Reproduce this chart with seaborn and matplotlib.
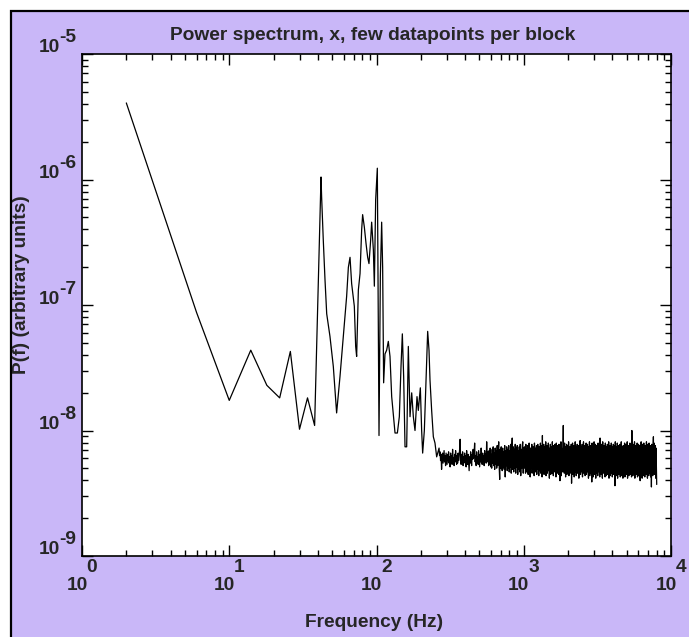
import numpy as np
import pandas as pd
import matplotlib
matplotlib.use("Agg")
import matplotlib.pyplot as plt
import seaborn as sns
from matplotlib.patches import Rectangle
from matplotlib.ticker import LogLocator, NullFormatter

# ---------------- data ----------------
# low-frequency part: frequency (Hz) and log10 of power
low_freq = [2, 6, 10, 14, 18, 22, 26, 30, 34, 38]
low_logp = [-5.39, -7.06, -7.76, -7.36, -7.64, -7.74, -7.37, -7.99, -7.74, -7.96]

# peak region 42 .. 263 Hz
peak_freq = [42.0, 42.4, 43.5, 44.7, 45.9, 48.3, 50.9, 53.6, 56.5, 59.5,
             62.7, 64.4, 66.1, 67.8, 70.7, 72.2, 73.3, 75.3, 77.3, 79.3,
             80.5, 82.7, 84.9, 87.1, 88.9, 91.3, 92.7, 95.2, 96.7, 98.7,
             101.3, 104.0, 106.2, 108.4, 110.1, 111.8, 114.2, 117.2, 120.3, 123.5,
             126.8, 133.6, 138.6, 142.9, 146.7, 149.8, 152.9, 156.2, 160.3, 164.5,
             168.9, 173.4, 177.9, 182.6, 188.4, 192.3, 198.5, 202.6, 205.8, 211.3,
             216.8, 222.6, 227.3, 230.9, 236.9, 243.2, 249.6, 256.2, 263.0]
peak_logp = [-5.98, -6.14, -6.48, -6.80, -7.07, -7.25, -7.49, -7.86, -7.57, -7.25,
             -6.93, -6.70, -6.62, -6.83, -7.01, -7.33, -7.41, -6.88, -6.75, -6.40,
             -6.28, -6.38, -6.51, -6.62, -6.67, -6.48, -6.34, -6.56, -6.85, -6.16,
             -5.91, -8.04, -6.77, -6.34, -6.70, -7.62, -7.39, -7.36, -7.29, -7.41,
             -7.73, -8.02, -8.02, -7.89, -7.49, -7.23, -7.57, -8.13, -8.13, -7.33,
             -7.89, -7.70, -7.89, -8.00, -7.73, -7.84, -7.66, -8.00, -8.18, -8.00,
             -7.62, -7.21, -7.36, -7.60, -7.84, -8.05, -8.10, -8.21, -8.16]

# noise floor, part A: 266 .. 1000 Hz (log10 power, log-spaced in frequency)
floorA_f_range = [266, 1000]
floorA_logp = [
    -8.14, -8.20, -8.17, -8.24, -8.19, -8.31, -8.22, -8.18, -8.26, -8.21,
    -8.16, -8.25, -8.20, -8.28, -8.18, -8.23, -8.27, -8.19, -8.24, -8.17,
    -8.26, -8.21, -8.29, -8.18, -8.23, -8.20, -8.27, -8.15, -8.24, -8.22,
    -8.28, -8.19, -8.25, -8.16, -8.23, -8.27, -8.20, -8.26, -8.18, -8.24,
    -8.21, -8.15, -8.07, -8.22, -8.27, -8.19, -8.25, -8.17, -8.28, -8.21,
    -8.24, -8.18, -8.26, -8.20, -8.29, -8.16, -8.23, -8.27, -8.19, -8.25,
    -8.32, -8.21, -8.26, -8.17, -8.24, -8.28, -8.19, -8.23, -8.15, -8.22,
    -8.18, -8.10, -8.25, -8.20, -8.28, -8.17, -8.24, -8.21, -8.27, -8.16,
    -8.23, -8.29, -8.19, -8.25, -8.14, -8.22, -8.27, -8.18, -8.24, -8.20,
    -8.28, -8.16, -8.23, -8.19, -8.26, -8.09, -8.21, -8.25, -8.17, -8.28,
    -8.16, -8.27, -8.14, -8.29, -8.19, -8.30, -8.15, -8.26, -8.13, -8.28,
    -8.18, -8.31, -8.14, -8.27, -8.16, -8.30, -8.12, -8.28, -8.17, -8.09,
    -8.29, -8.39, -8.15, -8.30, -8.13, -8.27, -8.32, -8.14, -8.29, -8.17,
    -8.31, -8.12, -8.37, -8.16, -8.28, -8.13, -8.32, -8.15, -8.30, -8.12,
    -8.33, -8.16, -8.29, -8.11, -8.34, -8.14, -8.06, -8.31, -8.13, -8.33,
    -8.15, -8.30, -8.11, -8.34, -8.14, -8.29, -8.12, -8.35, -8.16, -8.31,
    -8.13, -8.33, -8.11, -8.36, -8.15, -8.30, -8.12, -8.09, -8.34, -8.14,
]

# noise floor, part B: 1012 .. 7998 Hz
floorB_f_range = [1012, 7998]
floorB_logp = [
    -8.13, -8.30, -8.17, -8.34, -8.11, -8.28, -8.15, -8.33, -8.19, -8.29,
    -8.12, -8.35, -8.16, -8.27, -8.10, -8.32, -8.18, -8.37, -8.14, -8.30,
    -8.20, -8.29, -8.11, -8.34, -8.15, -8.31, -8.13, -8.28, -8.17, -8.36,
    -8.10, -8.30, -8.14, -8.33, -8.19, -8.27, -8.12, -8.35, -8.16, -8.31,
    -8.11, -8.29, -8.15, -8.36, -8.13, -8.32, -8.18, -8.28, -8.10, -8.34,
    -8.16, -8.30, -8.12, -8.37, -8.04, -8.31, -8.14, -8.29, -8.11, -8.35,
    -8.17, -8.28, -8.13, -8.33, -8.09, -8.36, -8.15, -8.30, -8.12, -8.34,
    -8.18, -8.29, -8.10, -8.32, -8.14, -8.38, -8.16, -8.27, -8.11, -8.35,
    -8.13, -8.31, -8.17, -8.34, -8.09, -8.29, -8.15, -8.36, -8.12, -8.30,
    -8.19, -8.33, -8.11, -8.28, -8.14, -8.37, -8.10, -8.31, -8.16, -8.34,
    -8.12, -8.29, -8.15, -8.35, -8.11, -8.32, -8.17, -8.40, -8.13, -8.30,
    -8.09, -8.36, -8.14, -8.28, -8.18, -8.33, -8.12, -7.96, -8.31, -8.15,
    -8.34, -8.10, -8.29, -8.16, -8.37, -8.13, -8.30, -8.11, -8.35, -8.17,
    -8.28, -8.12, -8.33, -8.09, -8.36, -8.15, -8.31, -8.13, -8.29, -8.18,
    -8.34, -8.11, -8.42, -8.14, -8.30, -8.10, -8.35, -8.16, -8.32, -8.12,
    -8.37, -8.15, -8.29, -8.09, -8.33, -8.13, -8.36, -8.17, -8.30, -8.11,
    -8.34, -8.14, -8.28, -8.12, -8.38, -8.16, -8.31, -8.10, -8.08, -8.35,
    -8.13, -8.30, -8.17, -8.33, -8.11, -8.37, -8.15, -8.29, -8.09, -8.34,
    -8.14, -8.32, -8.12, -8.36, -8.18, -8.30, -8.10, -8.35, -8.16, -8.28,
    -8.11, -8.33, -8.15, -8.38, -8.13, -8.31, -8.09, -8.36, -8.17, -8.29,
    -8.12, -8.34, -8.14, -8.41, -8.10, -8.30, -8.16, -8.37, -8.13, -8.32,
    -8.09, -8.35, -8.15, -8.29, -8.11, -8.38, -8.17, -8.31, -8.12, -8.34,
    -8.14, -8.36, -8.10, -8.30, -8.16, -8.33, -8.13, -8.37, -8.06, -8.31,
    -8.15, -8.35, -8.11, -8.29, -8.14, -8.38, -8.09, -8.32, -8.17, -8.34,
    -8.12, -8.30, -8.15, -8.37, -8.10, -8.33, -8.16, -8.36, -8.13, -8.29,
    -8.11, -8.35, -8.14, -8.31, -8.09, -8.38, -8.17, -8.32, -8.12, -8.36,
    -8.15, -8.30, -8.10, -8.34, -8.13, -8.37, -8.16, -8.31, -8.11, -8.35,
    -8.14, -8.33, -8.12, -8.44, -8.09, -8.30, -8.15, -8.36, -8.13, -8.32,
    -8.10, -8.38, -8.16, -8.31, -8.12, -8.35, -8.14, -8.29, -8.11, -8.37,
    -8.15, -8.33, -8.09, -8.36, -8.13, -8.30, -8.17, -8.38, -8.12, -8.34,
    -8.14, -8.31, -8.10, -8.37, -8.16, -8.33, -8.11, -8.35, -8.13, -8.30,
    -8.09, -8.38, -8.15, -8.32, -8.12, -8.36, -8.14, -8.30, -8.10, -8.35,
    -8.16, -8.33, -8.12, -8.37, -8.00, -8.31, -8.13, -8.36, -8.11, -8.34,
    -8.15, -8.30, -8.09, -8.38, -8.14, -8.32, -8.12, -8.35, -8.16, -8.31,
    -8.10, -8.37, -8.13, -8.33, -8.11, -8.36, -8.15, -8.30, -8.12, -8.40,
    -8.14, -8.34, -8.09, -8.31, -8.16, -8.38, -8.11, -8.33, -8.13, -8.36,
    -8.10, -8.32, -8.15, -8.37, -8.12, -8.30, -8.14, -8.35, -8.09, -8.33,
    -8.16, -8.38, -8.11, -8.31, -8.13, -8.36, -8.10, -8.34, -8.15, -8.30,
    -8.12, -8.37, -8.14, -8.45, -8.11, -8.33, -8.16, -8.36, -8.13, -8.05,
    -8.31, -8.10, -8.35, -8.15, -8.32, -8.12, -8.38, -8.14, -8.30, -8.43,
]

x_decades = [0, 1, 2, 3, 4]
y_decades = [-9, -8, -7, -6, -5]
title_text = "Power spectrum, x, few datapoints per block"
xlabel_text = "Frequency (Hz)"
ylabel_text = "P(f) (arbitrary units)"

# ---------------- styling ----------------
LAV = "#C9B7F8"
FS = 13.8
sns.set_theme(style="white")
plt.rcParams["font.family"] = ["Liberation Sans", "DejaVu Sans"]

floorA_freq = np.geomspace(floorA_f_range[0], floorA_f_range[1], len(floorA_logp))
floorB_freq = np.geomspace(floorB_f_range[0], floorB_f_range[1], len(floorB_logp))
freq = np.concatenate([low_freq, peak_freq, floorA_freq, floorB_freq])
logp = np.concatenate([low_logp, peak_logp, floorA_logp, floorB_logp])
df = pd.DataFrame({"f": freq, "P": 10.0 ** logp})

W, H = 689, 637
fig = plt.figure(figsize=(W / 100, H / 100), dpi=100, facecolor="white")
fig.add_artist(Rectangle((10.5 / W, -0.05), 1.2, 1 - 10.5 / H + 0.05,
                         transform=fig.transFigure, facecolor=LAV,
                         edgecolor="black", linewidth=1.6, zorder=-10))

ax = fig.add_axes([82 / W, 1 - 556 / H, (671 - 82) / W, (556 - 54) / H])
ax.set_facecolor("white")
ax.set_xscale("log")
ax.set_yscale("log")
sns.lineplot(data=df, x="f", y="P", ax=ax, color="black", linewidth=0.9,
             estimator=None, sort=False)
ax.set_xlim(10.0 ** x_decades[0], 10.0 ** x_decades[-1])
ax.set_ylim(10.0 ** y_decades[0], 10.0 ** y_decades[-1])
ax.set_xlabel("")
ax.set_ylabel("")

for spine in ax.spines.values():
    spine.set_color("black")
    spine.set_linewidth(1.2)

for axis in (ax.xaxis, ax.yaxis):
    axis.set_major_locator(LogLocator(base=10, numticks=12))
    axis.set_minor_locator(LogLocator(base=10, subs=np.arange(2, 10), numticks=100))
    axis.set_major_formatter(NullFormatter())
    axis.set_minor_formatter(NullFormatter())
ax.tick_params(which="both", direction="in", top=True, right=True,
               bottom=True, left=True, color="black", width=1.0)
ax.tick_params(which="major", length=8)
ax.tick_params(which="minor", length=4.5)

px = 0.72  # points per pixel at 100 dpi
for e in x_decades:
    ax.annotate("10", xy=(10.0 ** e, 0), xycoords=("data", "axes fraction"),
                xytext=(-5 * px, -29.5 * px), textcoords="offset points",
                ha="center", va="center", fontsize=FS, fontweight="bold")
    ax.annotate(str(e), xy=(10.0 ** e, 0), xycoords=("data", "axes fraction"),
                xytext=(10 * px, -12 * px), textcoords="offset points",
                ha="center", va="center", fontsize=FS, fontweight="bold")
for e in y_decades:
    ax.annotate("10", xy=(0, 10.0 ** e), xycoords=("axes fraction", "data"),
                xytext=(-33 * px, 6 * px), textcoords="offset points",
                ha="center", va="center", fontsize=FS, fontweight="bold")
    ax.annotate(str(e), xy=(0, 10.0 ** e), xycoords=("axes fraction", "data"),
                xytext=(-14 * px, 16 * px), textcoords="offset points",
                ha="center", va="center", fontsize=FS, fontweight="bold")

fig.text(372.5 / W, 1 - 40 / H, title_text, ha="center", va="baseline",
         fontsize=FS, fontweight="bold")
fig.text(374 / W, 1 - 627 / H, xlabel_text, ha="center", va="baseline",
         fontsize=FS, fontweight="bold")
fig.text(22 / W, 1 - 285 / H, ylabel_text, ha="center", va="center",
         rotation=90, fontsize=FS, fontweight="bold")

fig.savefig("out.png", dpi=100, facecolor=fig.get_facecolor())
